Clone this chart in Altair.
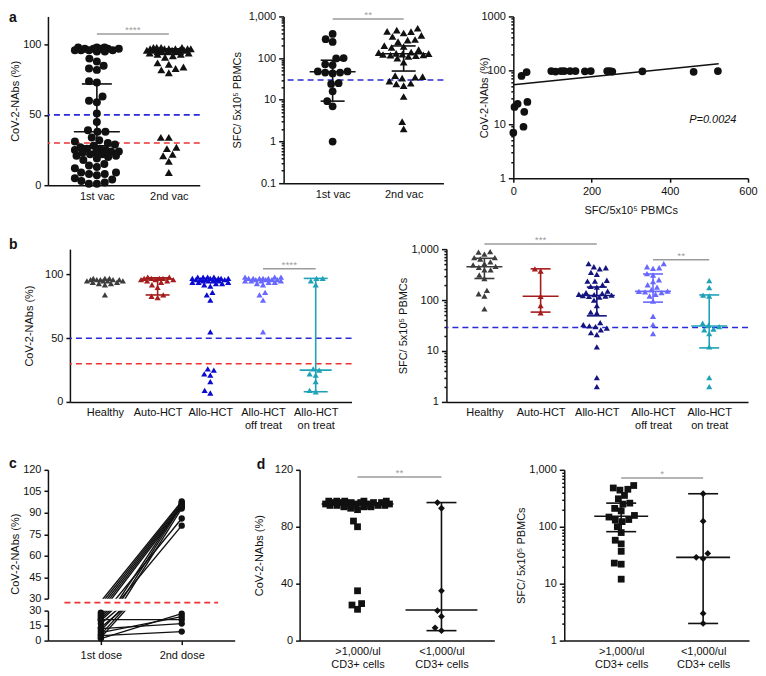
import math
import altair as alt
import pandas as pd

FONT = "Liberation Sans"
INK = "#111111"
GRAY = "#9b9b9b"
BLUE = "#2a2ad8"
RED = "#f03232"

# ------------------------------------------------------------------ data
A_CATS = [["1st vac"], ["2nd vac"]]
a1_first = [98, 98, 98, 97, 97, 97, 97, 97, 96, 96, 96, 96, 95, 95,
            90, 88, 85, 83, 82, 74, 73, 63, 60, 59, 51, 45, 39, 38, 38,
            34, 32, 31, 30, 29, 28, 27, 26, 26, 25, 25, 24, 24, 23, 23,
            22, 22, 21, 21, 20, 19, 18, 15, 14, 13, 12, 9, 9, 8, 8, 7,
            5, 4, 3, 2, 1, 1]
a1_second = [98, 98, 98, 98, 97, 97, 97, 97, 97, 97, 96, 96, 96, 96, 96,
             96, 95, 95, 95, 94, 94, 93, 93, 92, 91,
             87, 86, 84, 83, 82, 80,
             34, 34, 27, 26, 22, 21, 17, 9]
a1_stats = [(28, 38, 72), (93, 96, 97)]          # (q1, median, q3)
a1_thresholds = [50, 30]
a1_sig = [(1, 2, 107.5, "****")]

a2_first = [380, 285, 245, 100, 98, 71, 68, 48, 48, 45, 45, 43, 25, 24, 16, 9.3, 7, 1]
a2_second = [520, 470, 440, 430, 400, 350, 330, 280, 270, 250, 200, 190, 180,
             160, 140, 135, 130, 128, 125, 122, 120, 118, 115, 110, 100, 80,
             38, 36, 35, 33, 28, 25, 24, 22, 12, 3, 2]
a2_stats = [(9.3, 47, 89), (49, 127, 196)]
a2_thresholds = [30]
a2_sig = [(1, 2, 870, "**")]

a3_sfc = [0, 3, 11, 36, 28, 26, 21, 34, 97, 108, 122, 130, 145, 159, 183, 198,
          240, 247, 253, 330, 461, 523]
a3_nabs = [7, 21, 24, 26, 17, 9, 79, 93, 97, 95, 97, 97, 97, 97, 96, 97,
           97, 97, 95, 96, 94, 97]
a3_fit_sfc = [0, 525]
a3_fit_nabs = [54, 133]
a3_p_label = ["P=0.0024"]
a3_p_at = [(510, 12)]

B_CATS = [["Healthy"], ["Auto-HCT"], ["Allo-HCT"], ["Allo-HCT", "off treat"], ["Allo-HCT", "on treat"]]
b1_healthy = [97, 97, 97, 96, 96, 96, 96, 96, 95, 95, 95, 95, 94, 94, 93, 93, 92, 84]
b1_auto = [98, 98, 97, 97, 97, 97, 96, 96, 96, 95, 95, 94, 92, 90, 84, 83, 82]
b1_allo = [98, 98, 98, 98, 97, 97, 97, 97, 97, 96, 96, 96, 96, 96, 95, 95, 95, 95,
           94, 94, 94, 93, 93, 92, 91, 86, 84, 80, 55, 26, 25, 22, 21, 16, 9, 7]
b1_off = [98, 98, 98, 97, 97, 97, 97, 97, 96, 96, 96, 96, 95, 95, 95, 95, 94, 94,
          93, 92, 86, 84, 80, 55]
b1_on = [97, 97, 95, 92, 26, 25, 22, 21, 16, 9, 8]
b1_stats = [None, (84, 96.5, 97.5), None, None, (8, 25, 97)]
b1_thresholds = [50, 30]
b1_sig = [(4, 5, 104.5, "****")]

b2_healthy = [890, 870, 800, 680, 680, 640, 560, 520, 490, 460, 440, 390, 390,
              310, 265, 155, 133, 120, 67]
b2_auto = [410, 370, 118, 78, 56]
b2_allo = [520, 450, 430, 410, 350, 320, 245, 235, 235, 200, 185, 180, 150, 140,
           135, 130, 128, 125, 122, 120, 118, 115, 100, 78, 58, 56, 36, 33, 31,
           30, 28, 26, 23, 21, 12, 3, 2]
b2_off = [520, 450, 430, 420, 330, 310, 250, 230, 200, 180, 160, 150, 148, 145,
          140, 130, 120, 95, 48, 33, 22]
b2_on = [240, 175, 125, 120, 35, 32, 30, 27, 26, 22, 12, 3, 2]
b2_stats = [(265, 450, 660), (58, 119, 410), (49, 123, 180), (91, 148, 325), (11.5, 31, 126)]
b2_thresholds = [29]
b2_sig = [(1, 3, 1260, "***"), (4, 5, 615, "**")]

B1_COLORS = ["#3c3c3c", "#a51c1c", "#0a0ad0", "#6868ff", "#1fa2b8"]
B2_COLORS = ["#3c3c3c", "#a51c1c", "#14147e", "#6868ff", "#1fa2b8"]

C_CATS = [["1st dose"], ["2nd dose"]]
c_first = [28, 26, 24, 22, 20, 17, 13, 10, 6, 3, 21, 12, 8, 2, 5]
c_second = [98, 97, 96, 95, 94, 86, 81, 96, 95, 93, 21, 17, 24, 27, 9]
c_threshold = 30

D_CATS = [[">1,000/ul", "CD3+ cells"], ["<1,000/ul", "CD3+ cells"]]
d1_high = [98, 98, 98, 98, 98, 97, 97, 97, 97, 97, 97, 96, 96, 96, 96, 96, 95, 95,
           95, 95, 94, 94, 94, 93, 92, 84, 80, 35, 26, 25, 22]
d1_low = [97, 93, 35, 21, 17, 9, 7]
d1_stats = [(93, 96, 97), (7, 21.5, 97)]
d1_sig = [(1, 2, 115, "**")]

d2_high = [530, 455, 440, 480, 355, 250, 310, 260, 210, 190, 148, 131, 158, 123,
           134, 100, 79, 50, 58, 37, 23, 22, 12]
d2_low = [380, 125, 29, 27.5, 34, 3, 2]
d2_stats = [(82, 153, 260), (2, 29, 380)]
d2_sig = [(1, 2, 720, "*")]

NABS_TITLE = "CoV-2-NAbs (%)"
SFC_TITLE = "SFC/ 5x10\u2075 PBMCs"

# ------------------------------------------------------------------ helpers
MAJOR = "abs(log(datum.value)/LN10 - round(log(datum.value)/LN10)) < 0.000001"
ONE = pd.DataFrame({"k": [0]})


def log_ticks(lo, hi):
    vals = []
    e = math.floor(math.log10(lo) + 1e-9)
    while 10 ** e <= hi * 1.000001:
        for k in range(1, 10):
            v = k * 10 ** e
            if lo * 0.999999 <= v <= hi * 1.000001:
                vals.append(round(v, 6))
        e += 1
    return vals


def ypix_fn(ytype, dom, h):
    lo, hi = dom
    if ytype == "log":
        l0, l1 = math.log10(lo), math.log10(hi)
        return lambda v: h - (math.log10(v) - l0) / (l1 - l0) * h
    return lambda v: h - (v - lo) / (hi - lo) * h


def swarm(values, ypix, d, maxhw):
    """Beeswarm offsets (pixels) so equal values sit side by side, as in the source."""
    placed = []
    out = {}
    tol = 0.01
    order = sorted(range(len(values)), key=lambda i: values[i])
    for i in order:
        y = ypix(values[i])
        near = [(px, py) for px, py in placed if abs(py - y) < d]
        cands = [0.0]
        for px, py in near:
            w = math.sqrt(max(d * d - (py - y) ** 2, 0)) + 0.001
            cands += [px - w, px + w]
        cands = sorted(cands, key=lambda c: (abs(c), c))
        chosen = None
        for c in cands:
            if abs(c) > maxhw + 1e-9:
                continue
            if all(math.hypot(c - px, y - py) >= d - tol for px, py in near):
                chosen = c
                break
        if chosen is None:
            best, bestd = 0.0, -1.0
            for k in range(-20, 21):
                c = maxhw * k / 20
                md = min(math.hypot(c - px, y - py) for px, py in near)
                if md > bestd + 1e-9:
                    best, bestd = c, md
            chosen = best
        placed.append((chosen, y))
        out[i] = chosen
    return [out[i] for i in range(len(values))]


def cat_expr(cats):
    parts = ["[" + ",".join("'" + s + "'" for s in c) + "]" for c in cats]
    return "[" + ",".join(parts) + "][round(datum.value) - 1]"


def cat_axis(cats, ticks=False):
    return alt.Axis(values=list(range(1, len(cats) + 1)), labelExpr=cat_expr(cats),
                    title=None, ticks=ticks, tickSize=4, labelOverlap=False,
                    labelLineHeight=13, labelPadding=5, labelAngle=0, labelFlush=False)


def lin_axis(vals, title, tx):
    return alt.Axis(values=vals, title=title, titleX=tx, titleBaseline="middle",
                    labelOverlap=False, format="d")


def log_axis(dom, title, tx, fmt):
    return alt.Axis(values=log_ticks(*dom), title=title, titleX=tx, titleBaseline="middle",
                    labelExpr=f"{MAJOR} ? format(datum.value, '{fmt}') : ''",
                    tickSize={"condition": {"test": MAJOR, "value": 5}, "value": 2.5},
                    labelOverlap=False)


def letter_layer(text, dx, dy):
    return alt.Chart(pd.DataFrame({"t": [text]})).mark_text(
        fontSize=14, fontWeight="bold", align="left", baseline="alphabetic",
        color=INK, font=FONT).encode(text="t:N", x=alt.value(dx), y=alt.value(dy))


def frame_layer(left, top, right, bottom):
    # invisible layout guide: fixes how far the panel's box reaches round its plot
    return alt.Chart(ONE).mark_rule(opacity=0, strokeWidth=0).encode(
        x=alt.value(-left), x2=alt.value(right), y=alt.value(-top), y2=alt.value(bottom))


def spacer():
    return alt.Chart(ONE).mark_rule(opacity=0, strokeWidth=0).encode(
        x=alt.value(0), x2=alt.value(1), y=alt.value(0), y2=alt.value(1)).properties(width=1, height=1)


def dot_panel(groups, cats, colors, shapes, size, d, maxhw, width, height, xdom,
              ytype, ydom, yaxis, stats, med_hw, q_hw, thresholds=(), thr_colors=(),
              sigs=(), letter=None, frame=(0, 0, None)):
    unit = width / (xdom[1] - xdom[0])
    ypix = ypix_fn(ytype, ydom, height)
    rows = []
    for gi, vals in enumerate(groups):
        offs = swarm(vals, ypix, d, maxhw)
        for v, o in zip(vals, offs):
            rows.append({"col": colors[gi], "shp": shapes[gi], "x": gi + 1 + o / unit, "v": v})
    df = pd.DataFrame(rows)
    xs = alt.Scale(domain=list(xdom), nice=False, zero=False)
    if ytype == "log":
        ys = alt.Scale(type="log", domain=list(ydom), nice=False)
    else:
        ys = alt.Scale(domain=list(ydom), nice=False, zero=False)
    xax = cat_axis(cats)
    layers = []
    if thresholds:
        tdf = pd.DataFrame({"v": list(thresholds), "c": list(thr_colors)})
        layers.append(alt.Chart(tdf).mark_rule(strokeDash=[6, 4], strokeWidth=1.6).encode(
            y=alt.Y("v:Q", scale=ys, axis=yaxis), color=alt.Color("c:N", scale=None)))
    layers.append(alt.Chart(df).mark_point(filled=True, opacity=1, size=size, strokeWidth=0).encode(
        x=alt.X("x:Q", scale=xs, axis=xax),
        y=alt.Y("v:Q", scale=ys, axis=yaxis),
        color=alt.Color("col:N", scale=None),
        shape=alt.Shape("shp:N", scale=None)))
    srows = []
    for gi, s in enumerate(stats):
        if s is None:
            continue
        q1, med, q3 = s
        c = gi + 1
        srows.append({"col": colors[gi], "xc": c, "q1": q1, "med": med, "q3": q3,
                      "xml": c - med_hw / unit, "xmr": c + med_hw / unit,
                      "xql": c - q_hw / unit, "xqr": c + q_hw / unit})
    if srows:
        sdf = pd.DataFrame(srows)
        base = alt.Chart(sdf)
        col = alt.Color("col:N", scale=None)
        layers.append(base.mark_rule(strokeWidth=1.6).encode(
            x=alt.X("xc:Q", scale=xs, axis=xax), y=alt.Y("q1:Q", scale=ys, axis=yaxis), y2="q3:Q", color=col))
        layers.append(base.mark_rule(strokeWidth=1.6).encode(
            x=alt.X("xml:Q", scale=xs, axis=xax), x2="xmr:Q", y=alt.Y("med:Q", scale=ys, axis=yaxis), color=col))
        layers.append(base.mark_rule(strokeWidth=1.6).encode(
            x=alt.X("xql:Q", scale=xs, axis=xax), x2="xqr:Q", y=alt.Y("q1:Q", scale=ys, axis=yaxis), color=col))
        layers.append(base.mark_rule(strokeWidth=1.6).encode(
            x=alt.X("xql:Q", scale=xs, axis=xax), x2="xqr:Q", y=alt.Y("q3:Q", scale=ys, axis=yaxis), color=col))
    if sigs:
        gdf = pd.DataFrame([{"x1": a, "x2": b, "xm": (a + b) / 2, "y": y, "t": t} for a, b, y, t in sigs])
        layers.append(alt.Chart(gdf).mark_rule(color=GRAY, strokeWidth=1.5).encode(
            x=alt.X("x1:Q", scale=xs, axis=xax), x2="x2:Q", y=alt.Y("y:Q", scale=ys, axis=yaxis)))
        layers.append(alt.Chart(gdf).mark_text(color=GRAY, fontSize=10, baseline="bottom", dy=1, font=FONT).encode(
            x=alt.X("xm:Q", scale=xs, axis=xax), y=alt.Y("y:Q", scale=ys, axis=yaxis), text="t:N"))
    if letter is not None:
        layers.append(letter_layer(*letter))
    left, top, bottom = frame
    layers.append(frame_layer(left, top, width, height if bottom is None else bottom))
    return alt.layer(*layers).properties(width=width, height=height)


# ------------------------------------------------------------------ panel a
a1 = dot_panel([a1_first, a1_second], A_CATS, [INK, INK], ["circle", "triangle-up"], 64, 8.0, 22,
               152, 169, (0.32, 2.43), "linear", (0, 120),
               lin_axis([0, 50, 100], NABS_TITLE, -32), a1_stats, 23, 15,
               a1_thresholds, [BLUE, RED], a1_sig, letter=("a", -39, 6), frame=(39, 8, 215))

a2 = dot_panel([a2_first, a2_second], A_CATS, [INK, INK], ["circle", "triangle-up"], 60, 7.5, 25,
               160, 167, (0.31, 2.56), "log", (0.1, 1000),
               log_axis((0.1, 1000), SFC_TITLE, -46, ",~g"), a2_stats, 23, 12,
               a2_thresholds, [BLUE], a2_sig, frame=(83, 0, None))

a3_df = pd.DataFrame({"sfc": a3_sfc, "nabs": a3_nabs})
a3_fit = pd.DataFrame({"sfc": a3_fit_sfc, "nabs": a3_fit_nabs})
a3_p = pd.DataFrame({"sfc": [p[0] for p in a3_p_at], "nabs": [p[1] for p in a3_p_at], "t": a3_p_label})
a3_xs = alt.Scale(domain=[0, 600], nice=False, zero=False)
a3_ys = alt.Scale(type="log", domain=[1, 1000], nice=False)
a3_xax = alt.Axis(values=[0, 200, 400, 600], title="SFC/5x10\u2075 PBMCs", titleY=26,
                  labelFlush=False, tickSize=4, format="d")
a3_yax = log_axis((1, 1000), NABS_TITLE, -29, "~g")
a3 = alt.layer(
    alt.Chart(a3_fit).mark_line(color=INK, strokeWidth=1.5).encode(
        x=alt.X("sfc:Q", scale=a3_xs, axis=a3_xax), y=alt.Y("nabs:Q", scale=a3_ys, axis=a3_yax)),
    alt.Chart(a3_df).mark_point(filled=True, opacity=1, size=60, color=INK, strokeWidth=0).encode(
        x=alt.X("sfc:Q", scale=a3_xs, axis=a3_xax), y=alt.Y("nabs:Q", scale=a3_ys, axis=a3_yax)),
    alt.Chart(a3_p).mark_text(fontStyle="italic", fontSize=11, color=INK, font=FONT).encode(
        x=alt.X("sfc:Q", scale=a3_xs, axis=a3_xax), y=alt.Y("nabs:Q", scale=a3_ys, axis=a3_yax), text="t:N"),
    frame_layer(69, 0, 235, 162),
).properties(width=235, height=162)

# ------------------------------------------------------------------ panel b
b1 = dot_panel([b1_healthy, b1_auto, b1_allo, b1_off, b1_on], B_CATS, B1_COLORS, ["triangle-up"] * 5,
               38, 6.2, 18, 282, 153, (0.336, 5.68), "linear", (0, 120),
               lin_axis([0, 50, 100], NABS_TITLE, -40), b1_stats, 16, 12,
               b1_thresholds, [BLUE, RED], b1_sig, letter=("b", -61, 0), frame=(61, 18, 207))

b2 = dot_panel([b2_healthy, b2_auto, b2_allo, b2_off, b2_on], B_CATS, B2_COLORS, ["triangle-up"] * 5,
               38, 6.2, 18, 302, 153, (0.324, 5.69), "log", (1, 1000),
               log_axis((1, 1000), SFC_TITLE, -43, ",~g"), b2_stats, 18, 10,
               b2_thresholds, [BLUE], b2_sig, frame=(94, 0, None))

# ------------------------------------------------------------------ panel c
c_rows = []
for i, (f, s) in enumerate(zip(c_first, c_second)):
    c_rows.append({"p": i, "x": 1, "v": f})
    c_rows.append({"p": i, "x": 2, "v": s})
c_df = pd.DataFrame(c_rows)
c_xs = alt.Scale(domain=[0.346, 2.655], nice=False, zero=False)
C_W, C_TOP_H, C_BOT_H = 187, 129, 30


def c_part(lo, hi, vals, is_top, h):
    ys = alt.Scale(domain=[lo, hi], nice=False, zero=False)
    if is_top:
        yax = alt.Axis(values=vals, title=NABS_TITLE, titleX=-32, titleY=84, titleBaseline="middle",
                       labelOverlap=False, format="d")
    else:
        yax = alt.Axis(values=vals, title=None, labelOverlap=False, format="d")
    xax = None if is_top else cat_axis(C_CATS, ticks=True)
    layers = [
        alt.Chart(c_df).mark_line(color=INK, strokeWidth=1.4, clip=True).encode(
            x=alt.X("x:Q", scale=c_xs, axis=xax), y=alt.Y("v:Q", scale=ys, axis=yax), detail="p:N"),
        alt.Chart(c_df).transform_filter(f"datum.v >= {lo} && datum.v <= {hi}").mark_point(
            filled=True, opacity=1, size=40, color=INK, strokeWidth=0).encode(
            x=alt.X("x:Q", scale=c_xs, axis=xax), y=alt.Y("v:Q", scale=ys, axis=yax)),
    ]
    if is_top:
        tdf = pd.DataFrame({"v": [c_threshold], "x1": [1 - 0.45], "x2": [2 + 0.45]})
        layers.append(alt.Chart(tdf).mark_rule(color=RED, strokeDash=[6, 4], strokeWidth=1.6, yOffset=4).encode(
            x=alt.X("x1:Q", scale=c_xs, axis=xax), x2="x2:Q", y=alt.Y("v:Q", scale=ys, axis=yax)))
        layers.append(letter_layer("c", -39, -2))
        layers.append(frame_layer(39, 14, C_W, h + 6))
    else:
        layers.append(frame_layer(0, 6, C_W, h))
    return alt.layer(*layers).properties(width=C_W, height=h)


c_top = c_part(30, 120, [30, 45, 60, 75, 90, 105, 120], True, C_TOP_H)
c_bot = c_part(0, 30, [0, 15, 30], False, C_BOT_H)
c_panel = alt.vconcat(c_top, c_bot, spacing=0)

# ------------------------------------------------------------------ panel d
d1 = dot_panel([d1_high, d1_low], D_CATS, [INK, INK], ["square", "diamond"], 46, 7.0, 32,
               195, 171, (0.31, 2.63), "linear", (0, 120),
               lin_axis([0, 40, 80, 120], NABS_TITLE, -40), d1_stats, 36, 15,
               sigs=d1_sig, letter=("d", -43, -1), frame=(65, 14, None))

d2 = dot_panel([d2_high, d2_low], D_CATS, [INK, INK], ["square", "diamond"], 46, 7.0, 25,
               185, 171, (0.305, 2.56), "log", (1, 1000),
               log_axis((1, 1000), SFC_TITLE, -43, ",~g"), d2_stats, 27, 15,
               sigs=d2_sig, frame=(70, 0, None))

# ------------------------------------------------------------------ layout
row_a = alt.hconcat(spacer(), a1, a2, a3, spacing=0)
row_b = alt.hconcat(spacer(), b1, b2, spacing=0)
row_cd = alt.hconcat(spacer(), c_panel, d1, d2, spacing=0)

chart = alt.vconcat(row_a, row_b, row_cd, spacing=0).properties(
    padding=0, background="white"
).configure(font=FONT).configure_view(
    stroke=None
).configure_axis(
    domainColor=INK, domainWidth=1.5, tickColor=INK, tickWidth=1.5, tickSize=4,
    labelFont=FONT, labelFontSize=11, labelColor=INK, titleFont=FONT, titleFontSize=11,
    titleColor=INK, titleFontWeight="normal", grid=False, labelPadding=3,
)

chart.save("out.html", embed_options={"renderer": "svg", "actions": False})
